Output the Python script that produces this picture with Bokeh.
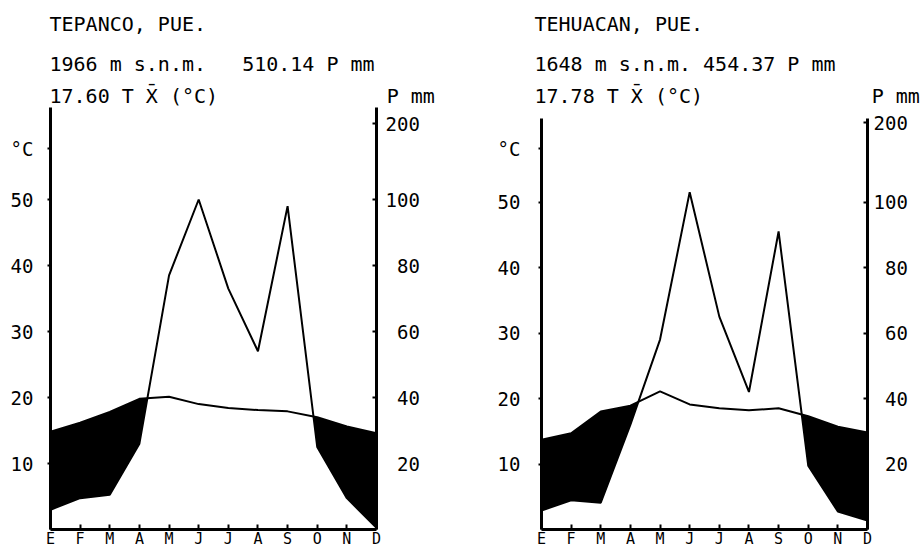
from bokeh.plotting import figure
from bokeh.models import Range1d, LinearAxis, FixedTicker, Title
from bokeh.layouts import row
from bokeh.embed import file_html
from bokeh.resources import INLINE

FONT = "DejaVu Sans Mono"
NB = "\u00a0"

# ---- data ----
months = ["E", "F", "M", "A", "M", "J", "J", "A", "S", "O", "N", "D"]
temp_ticks = [10, 20, 30, 40, 50]
temp_tick_labels = ["10", "20", "30", "40", "50"]
prec_tick_labels = ["20", "40", "60", "80", "100", "200"]

tep_temp = [14.8, 16.2, 17.8, 19.8, 20.1, 19.0, 18.4, 18.1, 17.9, 17.0, 15.6, 14.6]
tep_prec = [6.0, 9.5, 10.5, 26.0, 77.0, 100.0, 73.0, 54.0, 98.0, 25.0, 9.5, 0.5]
teh_temp = [13.7, 14.7, 18.0, 18.9, 21.1, 19.1, 18.5, 18.2, 18.5, 17.3, 15.7, 14.8]
teh_prec = [5.8, 8.9, 8.2, 32.0, 58.0, 103.0, 65.0, 42.0, 91.0, 19.5, 5.5, 2.7]

tep_lines = ["TEPANCO, PUE.",
             "1966 m s.n.m." + NB * 3 + "510.14 P mm",
             "17.60 T X\u0304 (\u00b0C)" + NB * 14 + "P mm"]
teh_lines = ["TEHUACAN, PUE.",
             "1648 m s.n.m. 454.37 P mm",
             "17.78 T X\u0304 (\u00b0C)" + NB * 14 + "P mm"]


def arid_fill(x, t, p):
    xs, lo, hi = [], [], []
    n = len(x)
    for i in range(n):
        xs.append(x[i]); lo.append(min(t[i], p[i])); hi.append(t[i])
        if i < n - 1:
            d0 = t[i] - p[i]
            d1 = t[i + 1] - p[i + 1]
            if d0 * d1 < 0:
                f = d0 / (d0 - d1)
                xi = x[i] + f * (x[i + 1] - x[i])
                ti = t[i] + f * (t[i + 1] - t[i])
                xs.append(xi); lo.append(ti); hi.append(ti)
    return xs, lo, hi


def style_axis(a, tin, tout, std, size):
    a.major_tick_in = tin
    a.major_tick_out = tout
    a.major_tick_line_width = 2
    a.axis_line_width = 3
    a.major_label_standoff = std
    a.major_label_text_font = FONT
    a.major_label_text_font_size = size
    a.major_label_text_color = "black"
    a.minor_tick_line_color = None


def panel(width, bl, br, ymax, ytop, p200, pc, temp, prec, left_std, right_std,
          lines, toff):
    p = figure(width=width, height=553, output_backend="svg", toolbar_location=None,
               x_range=Range1d(0, 11), y_range=Range1d(0, ymax),
               min_border_left=bl, min_border_right=br, min_border_top=107,
               min_border_bottom=24, outline_line_color=None,
               background_fill_color="white", border_fill_color="white")
    p.grid.visible = False
    x = list(range(12))
    pscaled = [v / 2.0 for v in prec]
    xs, lo, hi = arid_fill(x, temp, pscaled)
    p.varea(x=xs, y1=lo, y2=hi, fill_color="black")
    p.line(x, pscaled, line_color="black", line_width=2)
    p.line(x, temp, line_color="black", line_width=2)

    xa = p.xaxis[0]
    xa.ticker = FixedTicker(ticks=x)
    xa.major_label_overrides = {i: months[i] for i in x}
    style_axis(xa, 5, 0, 0, "15px")

    ya = p.yaxis[0]
    lt = temp_ticks + [pc]
    ya.ticker = FixedTicker(ticks=lt)
    ov = {t: l for t, l in zip(temp_ticks, temp_tick_labels)}
    ov[pc] = "\u00b0C"
    ya.major_label_overrides = ov
    ya.bounds = (0, ytop)
    style_axis(ya, 0, 3, left_std, "19px")

    rticks = temp_ticks + [p200]
    rlabels = {}
    for t, l in zip(rticks, prec_tick_labels):
        rlabels[t] = l if len(l) == 3 else NB + l
    ra = LinearAxis(ticker=FixedTicker(ticks=rticks), major_label_overrides=rlabels,
                    bounds=(0, ytop))
    style_axis(ra, 4, 0, right_std, "19px")
    p.add_layout(ra, "right")

    for txt, so in zip(reversed(lines), [-1, 14, 13]):
        p.add_layout(Title(text=txt, align="left", offset=toff, text_font=FONT,
                           text_font_size="20px", text_font_style="normal",
                           text_color="black", standoff=so), "above")
    return p


# left panel: frame x 50..376, y 107..529 (6.6 px per degree)
p1 = panel(460, 50, 84, 422 / 6.6, 422 / 6.6, (529 - 123) / 6.6, (529 - 148) / 6.6,
           tep_temp, tep_prec, 14, 9, tep_lines, -1)
# right panel: frame x 541..867, axis from y 118 (6.55 px per degree)
p2 = panel(463, 81, 56, 422 / 6.55, (529 - 118) / 6.55, (529 - 122) / 6.55,
           (529 - 148) / 6.55, teh_temp, teh_prec, 18, 6, teh_lines, -7)

layout = row(p1, p2)
open("out.html", "w").write(file_html(layout, INLINE))
